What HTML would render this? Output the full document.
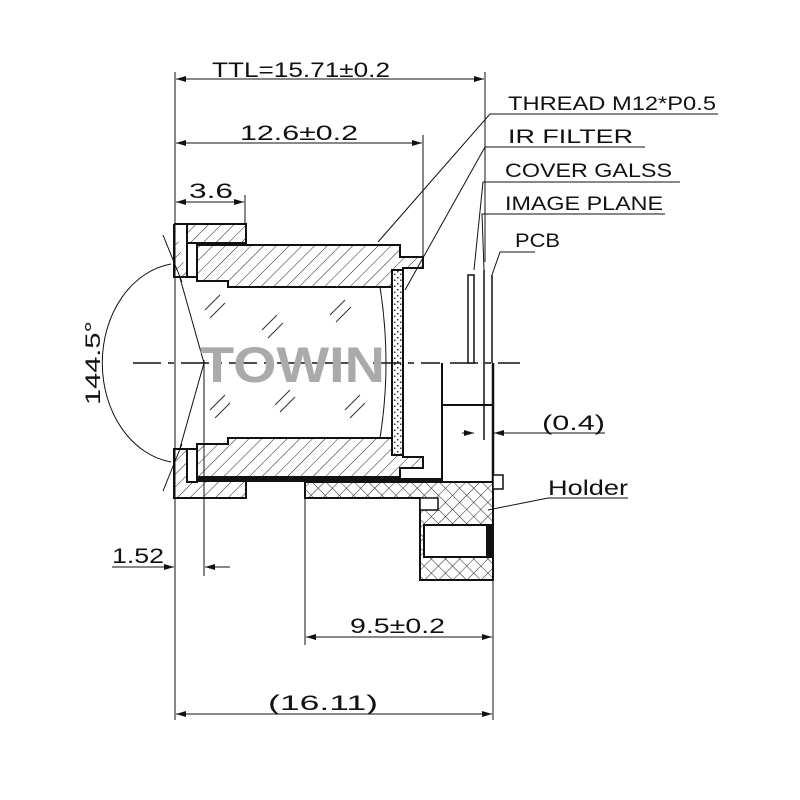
<!DOCTYPE html>
<html><head><meta charset="utf-8"><style>
html,body{margin:0;padding:0;background:#fff}
svg{display:block}
text{font-family:"Liberation Sans",sans-serif;fill:#111}
</style></head><body>
<svg width="800" height="800" viewBox="0 0 800 800" xmlns="http://www.w3.org/2000/svg">
<defs>
<pattern id="h" width="9" height="9" patternUnits="userSpaceOnUse" patternTransform="rotate(45)">
<line x1="0" y1="0" x2="0" y2="9" stroke="#222" stroke-width="1"/></pattern>
<pattern id="x" width="10" height="10" patternUnits="userSpaceOnUse" patternTransform="rotate(45)">
<line x1="0" y1="0" x2="0" y2="10" stroke="#222" stroke-width="1"/><line x1="0" y1="0" x2="10" y2="0" stroke="#222" stroke-width="1"/></pattern>
<pattern id="d" width="6" height="6" patternUnits="userSpaceOnUse">
<rect x="1" y="1" width="1.5" height="1.5" fill="#333"/><rect x="4" y="3.5" width="1.5" height="1.5" fill="#333"/></pattern>
<marker id="a" markerWidth="10" markerHeight="6" refX="10" refY="3" orient="auto" markerUnits="userSpaceOnUse"><path d="M0,0 L10,3 L0,6 z" fill="#111"/></marker>
</defs>
<g stroke="#111" fill="none" stroke-width="1">
<!-- extension lines -->
<line x1="175" y1="72" x2="175" y2="720"/>
<line x1="485" y1="72" x2="485" y2="262"/>
<line x1="423" y1="135" x2="423" y2="260"/>
<line x1="245" y1="195" x2="245" y2="225"/>
<line x1="204" y1="360" x2="204" y2="576"/>
<line x1="305" y1="498" x2="305" y2="645"/>
<line x1="493" y1="580" x2="493" y2="720"/>
<!-- dims -->
<line x1="176" y1="79" x2="484" y2="79" marker-end="url(#a)"/>
<line x1="484" y1="79" x2="176" y2="79" marker-end="url(#a)"/>
<line x1="176" y1="143" x2="422" y2="143" marker-end="url(#a)"/>
<line x1="422" y1="143" x2="176" y2="143" marker-end="url(#a)"/>
<line x1="176" y1="202" x2="244" y2="202" marker-end="url(#a)"/>
<line x1="244" y1="202" x2="176" y2="202" marker-end="url(#a)"/>
<line x1="112" y1="567" x2="174" y2="567" marker-end="url(#a)"/>
<line x1="230" y1="567" x2="205" y2="567" marker-end="url(#a)"/>
<line x1="306" y1="637" x2="492" y2="637" marker-end="url(#a)"/>
<line x1="492" y1="637" x2="306" y2="637" marker-end="url(#a)"/>
<line x1="176" y1="714" x2="492" y2="714" marker-end="url(#a)"/>
<line x1="492" y1="714" x2="176" y2="714" marker-end="url(#a)"/>
<!-- angle -->
<line x1="163" y1="235" x2="182" y2="282"/>
<line x1="163" y1="491" x2="182" y2="444"/>
<line x1="180" y1="278" x2="204" y2="363"/>
<line x1="204" y1="363" x2="180" y2="448"/>
<path d="M171,264 A80,100 0 0 0 171,462"/>
<!-- centerline -->
<path d="M133,363 H440 M450,363 H520" stroke-dasharray="28,7,6,7" stroke-width="1.5"/>
<!-- leaders -->
<polyline points="718,114 490,114 378,242"/>
<polyline points="645,147 485,147 405,290"/>
<polyline points="680,182 483,182 474,270"/>
<polyline points="665,214 482,214 484,270"/>
<polyline points="535,252 500,252 492,275"/>
<line x1="462" y1="433" x2="474" y2="433" marker-end="url(#a)"/>
<line x1="605" y1="433" x2="494" y2="433" marker-end="url(#a)"/>
<polyline points="628,498 548,498 488,510"/>
</g>
<!-- lens body -->
<g stroke="#111" stroke-width="2">
<path d="M174,224 H246 V243 H197 V277 H187 V224 Z M174,224 V277 H187" fill="url(#h)"/>
<path d="M174,449 H187 V480 H246 V498 H174 Z" fill="url(#h)"/>
<rect x="187" y="243" width="10" height="34" fill="#fff"/>
<rect x="187" y="449" width="10" height="33" fill="#fff"/>
<path d="M197,245 H400 V257 H423 V268 H403 V270 H392 V287 H380 L378,287 H228 V281 H197 Z" fill="url(#h)"/>
<path d="M197,477 H400 V468 H423 V457 H403 V455 H392 V438 H228 V444 H197 Z" fill="url(#h)"/>
<rect x="392" y="270" width="11" height="185" fill="url(#d)"/>
<path d="M380,287 Q392,363 380,438" fill="none" stroke-width="1"/>
<!-- holder -->
<line x1="442" y1="363" x2="442" y2="481"/>
<line x1="493" y1="363" x2="493" y2="481" stroke-width="2.5"/>
<line x1="442" y1="405" x2="493" y2="405"/>
<rect x="197" y="478" width="245" height="4" fill="#111" stroke="none"/>
<path d="M305,482 H493 V580 H420 V498 H305 Z" fill="url(#x)"/>
<rect x="424" y="525" width="64" height="32" fill="#fff"/>
<rect x="487" y="525" width="6" height="32" fill="#111"/>
<rect x="420" y="498" width="18" height="12" fill="#fff" stroke-width="1.5"/>
<rect x="493" y="475" width="10" height="14" fill="#fff" stroke-width="1.5"/>
<!-- sensor lines -->
<rect x="468" y="275" width="6" height="88" fill="#fff" stroke-width="1.5"/>
<line x1="484" y1="270" x2="484" y2="440" stroke-width="1.5"/>
<line x1="492" y1="275" x2="492" y2="363" stroke-width="1.5"/>
</g>
<!-- glass hatch marks -->
<g stroke="#333" stroke-width="1">
<path d="M205,310 l15,-15 M210,318 l15,-15 M262,330 l15,-15 M268,338 l15,-15 M330,315 l15,-15 M336,322 l15,-15 M210,410 l15,-15 M215,418 l15,-15 M275,405 l15,-15 M280,412 l15,-15 M345,410 l15,-15 M350,418 l15,-15"/>
</g>
<text x="200" y="382" font-size="50" font-weight="bold" fill="#aaa" style="fill:#aaa" textLength="185" lengthAdjust="spacingAndGlyphs">TOWIN</text>
<g font-size="21">
<text x="212" y="77" textLength="178" lengthAdjust="spacingAndGlyphs">TTL=15.71±0.2</text>
<text x="240" y="140" textLength="118" lengthAdjust="spacingAndGlyphs">12.6±0.2</text>
<text x="189" y="198" textLength="44" lengthAdjust="spacingAndGlyphs">3.6</text>
<text x="112" y="563" textLength="52" lengthAdjust="spacingAndGlyphs">1.52</text>
<text x="350" y="633" textLength="95" lengthAdjust="spacingAndGlyphs">9.5±0.2</text>
<text x="268" y="710" textLength="110" lengthAdjust="spacingAndGlyphs">(16.11)</text>
<text x="542" y="430" textLength="63" lengthAdjust="spacingAndGlyphs">(0.4)</text>
<text x="548" y="495" textLength="80" lengthAdjust="spacingAndGlyphs">Holder</text>
<text transform="translate(100,405) rotate(-90)" textLength="84" lengthAdjust="spacingAndGlyphs">144.5°</text>
</g>
<g font-size="19">
<text x="508" y="110" textLength="208" lengthAdjust="spacingAndGlyphs">THREAD M12*P0.5</text>
<text x="508" y="143" textLength="125" lengthAdjust="spacingAndGlyphs">IR FILTER</text>
<text x="505" y="177" textLength="167" lengthAdjust="spacingAndGlyphs">COVER GALSS</text>
<text x="505" y="210" textLength="158" lengthAdjust="spacingAndGlyphs">IMAGE PLANE</text>
<text x="515" y="247" textLength="45" lengthAdjust="spacingAndGlyphs">PCB</text>
</g>
</svg>
</body></html>
